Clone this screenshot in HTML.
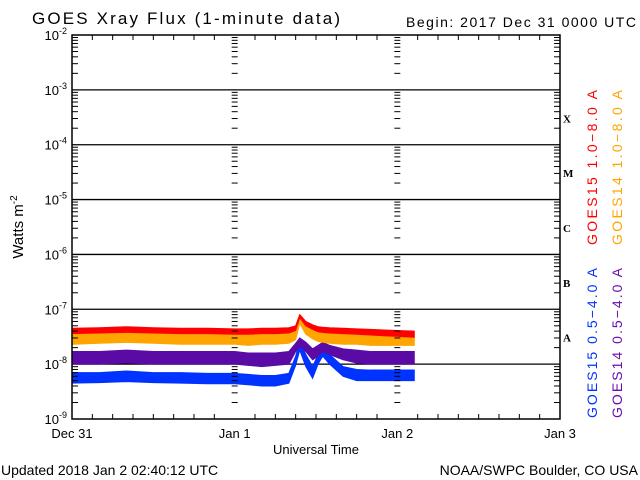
<!DOCTYPE html>
<html><head><meta charset="utf-8"><style>
body{margin:0;background:#fff;}
svg{display:block;font-family:"Liberation Sans",sans-serif;}
</style></head><body>
<svg id="chart" width="640" height="480" viewBox="0 0 640 480" xmlns="http://www.w3.org/2000/svg">
<rect width="640" height="480" fill="#fff"/>
<text x="32" y="24" font-size="17" textLength="308" lengthAdjust="spacing">GOES Xray Flux (1-minute data)</text>
<text x="406" y="27" font-size="14" textLength="230" lengthAdjust="spacing">Begin:  2017 Dec 31 0000 UTC</text>
<g id="grid"></g><g id="series"></g><g id="axes"></g>
<text x="316" y="454" font-size="13" text-anchor="middle">Universal Time</text>
<text transform="translate(23,227) rotate(-90)" font-size="15" text-anchor="middle">Watts m<tspan dy="-6" font-size="10">-2</tspan></text>
<text x="1" y="475" font-size="14">Updated 2018 Jan  2 02:40:12 UTC</text>
<text x="638" y="475" font-size="14" text-anchor="end">NOAA/SWPC Boulder, CO USA</text>
<text transform="translate(597,245) rotate(-90)" font-size="14" fill="#ff0000" textLength="155" lengthAdjust="spacing">GOES15 1.0−8.0 A</text>
<text transform="translate(622,245) rotate(-90)" font-size="14" fill="#ffa500" textLength="155" lengthAdjust="spacing">GOES14 1.0−8.0 A</text>
<text transform="translate(597,418) rotate(-90)" font-size="14" fill="#0033ff" textLength="150" lengthAdjust="spacing">GOES15 0.5−4.0 A</text>
<text transform="translate(622,418) rotate(-90)" font-size="14" fill="#6a0dad" textLength="150" lengthAdjust="spacing">GOES14 0.5−4.0 A</text>
</svg>
<script>
const hours=[0,4,8,12,16,20,24,26,28,30,32,33,33.6,34.5,35.5,36.3,37,38,40,42,44,46,48,50.5];
const redHi=[4.5,4.6,4.8,4.6,4.5,4.5,4.4,4.4,4.5,4.5,4.6,5.0,8.0,6.0,5.2,4.8,4.7,4.6,4.5,4.4,4.3,4.2,4.1,4.0];
const redLo=[3.6,3.7,3.8,3.7,3.6,3.6,3.5,3.5,3.6,3.6,3.7,4.1,7.0,5.0,4.3,3.9,3.8,3.7,3.6,3.5,3.4,3.3,3.2,3.1];
const orangeHi=[3.6,3.7,3.8,3.7,3.6,3.6,3.5,3.4,3.5,3.5,3.6,4.1,6.5,4.8,4.1,3.8,3.7,3.6,3.5,3.4,3.3,3.3,3.2,3.1];
const orangeLo=[2.3,2.4,2.5,2.4,2.3,2.3,2.3,2.2,2.3,2.3,2.4,2.8,5.5,3.5,2.9,2.6,2.5,2.4,2.3,2.3,2.2,2.2,2.2,2.2];
const purpleHi=[1.7,1.7,1.8,1.7,1.7,1.7,1.7,1.6,1.6,1.6,1.7,2.4,3.0,2.5,1.9,2.2,2.5,2.2,1.9,1.8,1.7,1.7,1.7,1.7];
const purpleLo=[1.0,1.0,1.05,1.0,1.0,1.0,1.0,0.95,0.9,0.95,1.0,1.7,2.1,1.7,1.2,1.4,1.7,1.5,1.2,1.05,1.0,1.0,1.0,1.0];
const blueHi=[0.7,0.7,0.75,0.7,0.7,0.68,0.68,0.65,0.62,0.62,0.68,1.4,2.6,1.5,0.9,1.5,2.1,1.5,0.9,0.8,0.78,0.78,0.78,0.78];
const blueLo=[0.45,0.46,0.48,0.46,0.45,0.44,0.44,0.42,0.4,0.4,0.45,0.95,1.8,0.9,0.55,1.0,1.4,1.0,0.6,0.5,0.5,0.5,0.5,0.5];
const yTicks=[-9,-8,-7,-6,-5,-4,-3,-2];
const xLabels=["Dec 31","Jan 1","Jan 2","Jan 3"];
const classLabels=["A","B","C","M","X"];
const NS="http://www.w3.org/2000/svg";
const L=72,R=560,T=35,B=419;
function xs(h){return L+(R-L)*h/72;}
function ys(e){return B-(B-T)*(e+9)/7;}
function yv(v){return ys(Math.log10(v*1e-8));}
function mk(tag,attrs,parent){const e=document.createElementNS(NS,tag);for(const k in attrs)e.setAttribute(k,attrs[k]);parent.appendChild(e);return e;}
const grid=document.getElementById('grid'),axes=document.getElementById('axes'),ser=document.getElementById('series');
yTicks.forEach(function(e){
  const y=ys(e);
  if(e>-9&&e<-2){const ln=mk('line',{x1:L,x2:R,y1:y,y2:y,stroke:'#000','stroke-width':1.3},grid);
  
  }
  const t=mk('text',{x:L-5,y:y+5,'font-size':13,'text-anchor':'end'},axes);
  
  
  t.innerHTML='10<tspan dy="-6" font-size="9">'+e+'</tspan>';
  if(e<-2){for(let m=2;m<=9;m++){const yy=ys(e+Math.log10(m));
    [L,R].forEach(function(xx,i){mk('line',{x1:xx,x2:xx+(i?-6:6),y1:yy,y2:yy,stroke:'#000'},axes);});
    [xs(24),xs(48)].forEach(function(xx){mk('line',{x1:xx-3,x2:xx+3,y1:yy,y2:yy,stroke:'#000'},axes);});
  }}
});
for(let h=0;h<=72;h+=3){const x=xs(h);const len=(h%24===0)?0:5;
  mk('line',{x1:x,x2:x,y1:B,y2:B-len,stroke:'#000'},axes);mk('line',{x1:x,x2:x,y1:T,y2:T+len,stroke:'#000'},axes);}
xLabels.forEach(function(s,i){const t=mk('text',{x:xs(i*24),y:438,'font-size':13,'text-anchor':'middle'},axes);
  
  
  t.textContent=s;});
classLabels.forEach(function(s,i){const t=mk('text',{x:563,y:ys(-7.5+i)+5,'font-size':11,'font-family':'Liberation Serif,serif','font-weight':'bold'},axes);
  
  
  t.textContent=s;});
const box=mk('rect',{x:L,y:T,width:R-L,height:B-T,fill:'none',stroke:'#000','stroke-width':1.5},axes);


function band(hi,lo,color,name){
  let pts=hours.map(function(h,i){return xs(h)+','+yv(hi[i]);});
  for(let i=hours.length-1;i>=0;i--)pts.push(xs(hours[i])+','+yv(lo[i]));
  const p=mk('polygon',{points:pts.join(' '),fill:color,stroke:color,'stroke-width':1},ser);
  
  
}
band(blueHi,blueLo,'#0033ff','series-goes15-short');
band(purpleHi,purpleLo,'#5a0aa5','series-goes14-short');
band(orangeHi,orangeLo,'#ffa500','series-goes14-long');
band(redHi,redLo,'#ff0000','series-goes15-long');
</script>
</body></html>
